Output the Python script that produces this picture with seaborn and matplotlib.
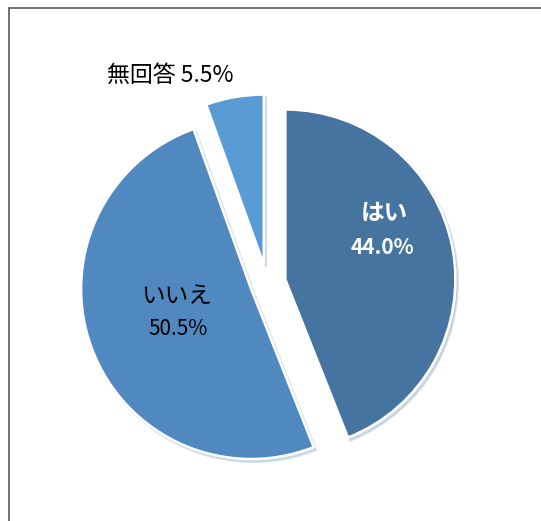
import matplotlib
matplotlib.use("Agg")
import matplotlib.pyplot as plt
import seaborn as sns
from matplotlib.patches import Rectangle

sns.set_style("white")
plt.rcParams["font.family"] = ["Noto Sans CJK JP", "DejaVu Sans"]

labels = ["はい", "いいえ", "無回答"]
values = [44.0, 50.5, 5.5]
colors = ["#4574A0", "#4F89C0", "#5B9BD5"]
explode = [0.11, 0.1, 0.11]

fig = plt.figure(figsize=(5.41, 5.21), dpi=100)
# pie centre about (267, 283) px, radius 170 px
ax = fig.add_axes([(267 - 221) / 541, (238 - 221) / 521, 442 / 541, 442 / 521])

wedges, _ = ax.pie(values, colors=colors, startangle=90, counterclock=False,
                   explode=explode, radius=1.0,
                   wedgeprops=dict(edgecolor="white", linewidth=1.8),
                   shadow=dict(ox=0.01, oy=-0.012, shade=0.15, alpha=0.18))
ax.set_xlim(-1.3, 1.3)
ax.set_ylim(-1.3, 1.3)
ax.set_aspect("equal")
ax.axis("off")

# labels
ax.text(0.69, 0.41, labels[0], ha="center", va="center", fontsize=17,
        color="white", fontweight="bold")
ax.text(0.68, 0.21, f"{values[0]:.1f}%", ha="center", va="center",
        fontsize=15, color="white", fontweight="bold")
ax.text(-0.53, -0.08, labels[1], ha="center", va="center", fontsize=17,
        color="black")
ax.text(-0.52, -0.27, f"{values[1]:.1f}%", ha="center", va="center",
        fontsize=15, color="black")
ax.text(-0.57, 1.22, f"{labels[2]} {values[2]:.1f}%", ha="center",
        va="center", fontsize=16.5, color="black")

# outer chart frame (partly cut off on the right and bottom)
fig.patches.append(Rectangle((9 / 541, -0.05), 1.2, 1 - 8 / 521 + 0.05,
                             transform=fig.transFigure, fill=False,
                             edgecolor="#595959", linewidth=1.2))

fig.savefig("out.png", dpi=100)
